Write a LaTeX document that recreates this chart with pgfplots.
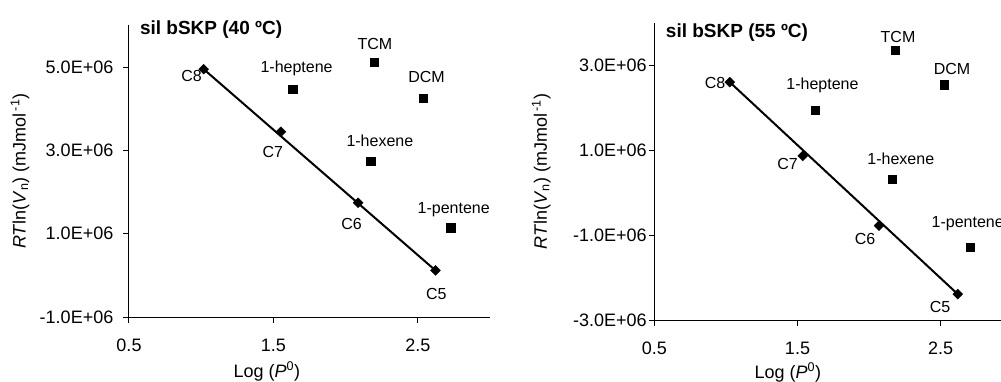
\documentclass[border=0pt]{standalone}
\usepackage{fontspec}
\setmainfont{Liberation Sans}
\usepackage{pgfplots}
\pgfplotsset{compat=1.18}

\pgfplotstableread{
x y
1.017 4.95e6
1.552 3.447e6
2.087 1.742e6
2.622 0.119e6
}\leftalk
\pgfplotstableread{
x y
1.635 4.464e6
2.196 5.12e6
2.537 4.25e6
2.175 2.735e6
2.728 1.142e6
}\leftoth
\pgfplotstableread{
x y
1.027 2.61e6
1.536 0.87e6
2.069 -0.774e6
2.619 -2.39e6
}\rightalk
\pgfplotstableread{
x y
1.622 1.955e6
2.181 3.37e6
2.525 2.545e6
2.16 0.32e6
2.705 -1.28e6
}\rightoth

\newcommand{\tfont}{\fontsize{18}{21}\selectfont}
\newcommand{\pfont}{\fontsize{16}{19}\selectfont}

\pgfplotsset{
  myaxis/.style={
    scale only axis,
    clip=false,
    axis x line=bottom, axis y line=left,
    axis line style={-, line width=1pt, black},
    tick align=outside,
    major tick length=5.5pt,
    tick style={line width=1pt, black},
    xmin=0.5, xmax=3.0,
    xtick={0.5,1.5,2.5}, xticklabels={0.5,1.5,2.5},
    scaled x ticks=false, scaled y ticks=false,
    /pgf/number format/assume math mode=true,
    ticklabel style={font=\tfont},
    xticklabel style={anchor=north, inner sep=0pt, yshift=-16.5pt},
    yticklabel style={anchor=east, inner sep=0pt},
    xlabel={Log (\textit{P}\textsuperscript{0})},
    ylabel={\textit{RT}ln(\textit{V}\textsubscript{n}) (mJmol\textsuperscript{\,-1})},
    label style={font=\tfont},
  },
  alk/.style={black, mark=square*, mark size=3.5pt, mark options={rotate=45, fill=black}, only marks},
  oth/.style={black, mark=square*, mark size=4.2pt, only marks},
  trend/.style={black, line width=2pt, no marks},
}

\begin{document}
\begin{tikzpicture}
\path[use as bounding box, clip] (0,0) rectangle (1001pt,381pt);

% ---------------- left axis ----------------
\begin{axis}[myaxis,
  at={(129pt,64pt)}, anchor=south west,
  width=361pt, height=291.6pt,
  ymin=-1e6, ymax=6e6,
  ytick={-1e6,1e6,3e6,5e6},
  yticklabels={-1.0E+06,1.0E+06,3.0E+06,5.0E+06},
  yticklabel style={xshift=-10pt},
  xlabel style={at={(axis description cs:0.382,0)}, anchor=base, yshift=-60pt},
  ylabel style={at={(axis description cs:-0.302,0.5)}, anchor=center, rotate=0},
]
\addplot[trend] coordinates {(1.017,4.95e6) (2.622,0.119e6)};
\addplot[alk] table[x=x,y=y] {\leftalk};
\addplot[oth] table[x=x,y=y] {\leftoth};
\node[font=\pfont, xshift=-12pt, yshift=-7pt] at (axis cs:1.017,4.95e6) {C8};
\node[font=\pfont, xshift=-8pt, yshift=-20pt] at (axis cs:1.552,3.447e6) {C7};
\node[font=\pfont, xshift=-6.5pt, yshift=-21.5pt] at (axis cs:2.087,1.742e6) {C6};
\node[font=\pfont, xshift=1pt, yshift=-23.5pt] at (axis cs:2.622,0.119e6) {C5};
\node[font=\pfont, xshift=3.7pt, yshift=21pt] at (axis cs:1.635,4.464e6) {1-heptene};
\node[font=\pfont, xshift=1pt, yshift=17.7pt] at (axis cs:2.196,5.12e6) {TCM};
\node[font=\pfont, xshift=3.4pt, yshift=21pt] at (axis cs:2.537,4.25e6) {DCM};
\node[font=\pfont, xshift=9pt, yshift=20.6pt] at (axis cs:2.175,2.735e6) {1-hexene};
\node[font=\pfont, xshift=3pt, yshift=17.7pt] at (axis cs:2.728,1.142e6) {1-pentene};
\node[font=\fontsize{19}{22}\selectfont\bfseries, anchor=west, inner sep=0pt, yshift=-4pt] at (axis description cs:0.03,1) {sil bSKP (40 ºC)};
\end{axis}

% ---------------- right axis ----------------
\begin{axis}[myaxis,
  at={(654.3pt,61pt)}, anchor=south west,
  width=358pt, height=296.8pt,
  ymin=-3e6, ymax=4e6,
  ytick={-3e6,-1e6,1e6,3e6},
  yticklabels={-3.0E+06,-1.0E+06,1.0E+06,3.0E+06},
  yticklabel style={xshift=-2pt},
  xlabel style={at={(axis description cs:0.373,0)}, anchor=base, yshift=-58pt},
  ylabel style={at={(axis description cs:-0.316,0.5)}, anchor=center, rotate=0},
]
\addplot[trend] coordinates {(1.027,2.61e6) (2.619,-2.39e6)};
\addplot[alk] table[x=x,y=y] {\rightalk};
\addplot[oth] table[x=x,y=y] {\rightoth};
\node[font=\pfont, xshift=-14.7pt, yshift=-1pt] at (axis cs:1.027,2.61e6) {C8};
\node[font=\pfont, xshift=-15pt, yshift=-8pt] at (axis cs:1.536,0.87e6) {C7};
\node[font=\pfont, xshift=-14pt, yshift=-13.3pt] at (axis cs:2.069,-0.774e6) {C6};
\node[font=\pfont, xshift=-17.7pt, yshift=-12.4pt] at (axis cs:2.619,-2.39e6) {C5};
\node[font=\pfont, xshift=7.5pt, yshift=24.2pt] at (axis cs:1.622,1.955e6) {1-heptene};
\node[font=\pfont, xshift=3pt, yshift=13.3pt] at (axis cs:2.181,3.37e6) {TCM};
\node[font=\pfont, xshift=7.7pt, yshift=16pt] at (axis cs:2.525,2.545e6) {DCM};
\node[font=\pfont, xshift=8.8pt, yshift=20pt] at (axis cs:2.16,0.32e6) {1-hexene};
\node[font=\pfont, xshift=-2.3pt, yshift=23.3pt] at (axis cs:2.705,-1.28e6) {1-pentene};
\node[font=\fontsize{19}{22}\selectfont\bfseries, anchor=west, inner sep=0pt, yshift=-9pt] at (axis description cs:0.032,1) {sil bSKP (55 ºC)};
\end{axis}
\end{tikzpicture}
\end{document}
